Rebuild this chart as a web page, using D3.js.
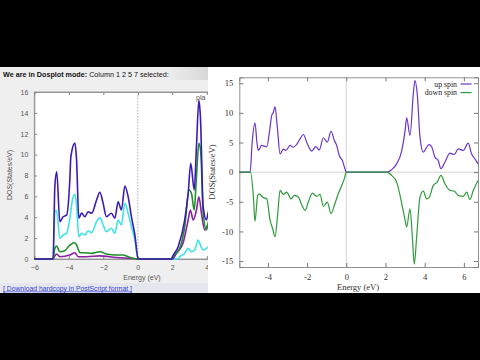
<!DOCTYPE html>
<html><head><meta charset="utf-8">
<script src="https://cdn.jsdelivr.net/npm/d3@7"></script>
<style>body{margin:0;background:#000;overflow:hidden}</style>
</head><body>
<svg id="c" width="480" height="360"></svg>
<script>
// ---------- DATA ----------
// Right chart: spin-polarised DOS (Energy eV, States/eV)
const upSpin = [[-5.46,0],[-4.91,0],[-4.8,5.2],[-4.66,8.3],[-4.56,5.0],[-4.49,3.65],[-4.32,4.5],[-4.06,4.3],[-3.89,7.6],[-3.81,9.5],[-3.72,10.1],[-3.64,11.05],[-3.52,7.6],[-3.38,3.1],[-3.21,3.9],[-3.08,3.65],[-2.87,4.5],[-2.70,4.2],[-2.53,4.7],[-2.36,5.6],[-2.19,6.35],[-2.02,5.05],[-1.77,3.55],[-1.55,4.3],[-1.38,3.75],[-1.17,5.8],[-0.97,5.05],[-0.78,6.9],[-0.61,5.35],[-0.49,4.5],[-0.36,2.8],[-0.20,1.97],[-0.07,0.57],[0,0],[2.06,0],[2.31,0.4],[2.57,1.4],[2.83,3.65],[3.0,7.0],[3.08,9.15],[3.25,6.2],[3.42,13.2],[3.5,15.45],[3.62,13.2],[3.76,5.9],[3.93,3.37],[4.1,4.2],[4.22,4.66],[4.35,4.33],[4.52,2.53],[4.69,1.97],[4.83,0.57],[5.03,1.68],[5.29,3.2],[5.51,2.98],[5.71,3.94],[5.97,3.65],[6.22,4.88],[6.39,3.1],[6.6,2.08],[6.72,1.4]];
const downSpin = [[-5.46,0],[-4.89,0],[-4.74,-4.2],[-4.66,-8.3],[-4.52,-3.9],[-4.45,-3.65],[-4.23,-4.3],[-4.06,-4.5],[-3.89,-8.1],[-3.76,-9.5],[-3.64,-10.9],[-3.5,-7.0],[-3.38,-3.08],[-3.21,-3.75],[-3.04,-3.37],[-2.82,-4.5],[-2.65,-3.92],[-2.45,-4.2],[-2.22,-5.9],[-2.1,-6.45],[-1.94,-5.05],[-1.73,-3.54],[-1.51,-4.09],[-1.34,-3.75],[-1.17,-5.78],[-0.97,-5.05],[-0.78,-7.0],[-0.58,-5.3],[-0.41,-3.65],[-0.23,-2.24],[-0.1,-1.1],[0,0],[2.06,0],[2.31,-0.55],[2.57,-1.68],[2.83,-5.3],[3.0,-8.1],[3.08,-9.25],[3.25,-6.17],[3.37,-10.9],[3.47,-15.5],[3.59,-10.9],[3.76,-4.2],[3.93,-3.2],[4.1,-4.5],[4.22,-4.3],[4.44,-2.24],[4.64,-1.68],[4.83,-0.55],[5.03,-1.96],[5.29,-3.08],[5.51,-3.2],[5.71,-3.92],[5.97,-4.09],[6.14,-3.37],[6.31,-4.65],[6.48,-3.08],[6.72,-1.4]];
const rightXTicks = [-4,-2,0,2,4,6];
const rightYTicks = [-15,-10,-5,0,5,10,15];
const legendLabels = ["up spin","down spin"];

// Left chart (Dosplot screenshot): columns 2, 5, 7 and another
const leftTotal = [[-6,0],[-4.91,0],[-4.81,6.9],[-4.70,8.36],[-4.52,3.57],[-4.33,4.05],[-4.13,4.2],[-3.94,7.6],[-3.88,9.8],[-3.65,11.1],[-3.55,9.5],[-3.42,3.9],[-3.26,4.4],[-3.07,4.05],[-2.88,4.53],[-2.68,4.38],[-2.39,5.65],[-2.2,6.39],[-2.01,5.33],[-1.82,4.05],[-1.53,4.38],[-1.33,3.9],[-1.14,5.49],[-0.95,4.69],[-0.75,6.99],[-0.56,5.97],[-0.37,4.05],[-0.17,2.3],[0.02,0],[1.95,0],[2.01,0.22],[2.34,1.18],[2.72,3.74],[2.92,6.29],[3.07,9.17],[3.27,6.61],[3.4,10.76],[3.54,15.2],[3.63,13.6],[3.79,5.0],[3.98,3.74],[4.13,4.69],[4.35,4.3],[4.6,2.2]];
const leftCyan = [[-6,0],[-4.91,0],[-4.81,4.53],[-4.71,4.63],[-4.52,1.98],[-4.33,2.3],[-4.13,2.46],[-3.94,3.9],[-3.79,5.65],[-3.65,6.2],[-3.55,5.17],[-3.42,2.14],[-3.26,2.46],[-3.07,2.3],[-2.88,2.71],[-2.68,2.52],[-2.39,3.57],[-2.2,3.96],[-2.01,3.26],[-1.82,2.62],[-1.53,2.94],[-1.33,2.46],[-1.14,3.74],[-0.95,3.26],[-0.75,5.33],[-0.56,4.38],[-0.37,3.1],[-0.17,1.82],[0.02,0],[2.3,0],[2.43,0.22],[2.72,0.54],[2.92,1.02],[3.11,0.7],[3.3,0.86],[3.5,1.82],[3.59,1.5],[3.79,0.86],[3.98,1.02],[4.13,1.2],[4.5,1.0]];
const leftGreen = [[-6,0],[-4.91,0],[-4.81,1.02],[-4.71,1.24],[-4.52,0.7],[-4.23,0.8],[-3.94,1.34],[-3.65,1.56],[-3.52,1.24],[-3.36,0.6],[-3.07,0.6],[-2.68,0.54],[-2.2,0.7],[-1.82,0.48],[-1.24,0.38],[-0.85,0.38],[-0.56,0.22],[-0.27,0.07],[0,0],[1.95,0],[2.05,0.22],[2.43,1.02],[2.72,3.1],[2.97,6.61],[3.11,6.29],[3.27,4.69],[3.4,7.88],[3.54,11.08],[3.65,10.28],[3.79,4.38],[3.98,2.78],[4.13,3.74],[4.5,2.5]];
const leftPurple = [[-6,0],[-4.91,0],[-4.81,0.3],[-4.71,0.48],[-4.52,0.22],[-3.94,0.38],[-3.65,0.6],[-3.46,0.22],[-2.97,0.22],[-2.2,0.3],[-1.24,0.14],[-0.27,0.05],[0,0],[2.0,0],[2.24,0.54],[2.62,1.5],[2.92,3.74],[3.05,4.69],[3.21,3.74],[3.4,4.69],[3.54,5.97],[3.69,4.38],[3.88,2.78],[4.13,3.42],[4.5,2.2]];
const leftXTicks = [-6,-4,-2,0,2,4,6,8];
const leftYTicks = [0,2,4,6,8,10,12,14,16];

// ---------- DRAW ----------
const svg = d3.select("#c");
svg.append("rect").attr("width",480).attr("height",360).attr("fill","#000");

// ---- Left panel ----
const defs = svg.append("defs");
defs.append("clipPath").attr("id","lclip").append("rect")
  .attr("x",0).attr("y",67).attr("width",208).attr("height",226);
const grad = defs.append("linearGradient").attr("id","lg").attr("x1","0").attr("x2","1");
grad.append("stop").attr("offset","0.8").attr("stop-color","#eeeeee");
grad.append("stop").attr("offset","1").attr("stop-color","#d8d8d8");

const L = svg.append("g").attr("clip-path","url(#lclip)");
L.append("rect").attr("x",0).attr("y",67).attr("width",208).attr("height",226).attr("fill","#efefef");
L.append("rect").attr("x",0).attr("y",67).attr("width",208).attr("height",13).attr("fill","url(#lg)");
L.append("rect").attr("x",0).attr("y",283).attr("width",208).attr("height",10).attr("fill","#e6e6ee");

const hdr = L.append("text").attr("x",3).attr("y",76.5)
  .attr("font-family","Liberation Sans, Arial, sans-serif").attr("font-size",7.2).attr("fill","#111");
hdr.append("tspan").attr("font-weight","bold").text("We are in Dosplot mode:");
hdr.append("tspan").text(" Column 1 2 5 7 selected:");

L.append("text").attr("x",3).attr("y",290.5)
  .attr("font-family","Liberation Sans, Arial, sans-serif").attr("font-size",6.8)
  .attr("fill","#3344cc").attr("text-decoration","underline")
  .text("[ Download hardcopy in PostScript format ]");

const lx = d3.scaleLinear().domain([-6,8]).range([34.3,275.8]);
const ly = d3.scaleLinear().domain([0,16]).range([259,92]);

L.append("rect").attr("x",lx(-6)).attr("y",ly(16)).attr("width",lx(8)-lx(-6)).attr("height",ly(0)-ly(16))
  .attr("fill","#ffffff").attr("stroke","#888").attr("stroke-width",0.8);

const laxB = L.append("g").attr("transform",`translate(0,${ly(0)})`)
  .call(d3.axisBottom(lx).tickValues(leftXTicks).tickSize(-3).tickPadding(6).tickFormat(d3.format("d")));
const laxT = L.append("g").attr("transform",`translate(0,${ly(16)})`)
  .call(d3.axisTop(lx).tickValues(leftXTicks).tickSize(-3).tickFormat(""));
const laxL = L.append("g").attr("transform",`translate(${lx(-6)},0)`)
  .call(d3.axisLeft(ly).tickValues(leftYTicks).tickSize(-3).tickPadding(6));
[laxB,laxT,laxL].forEach(a=>{
  a.select(".domain").attr("stroke","#888").attr("stroke-width",0.8);
  a.selectAll(".tick line").attr("stroke","#888");
  a.selectAll("text").attr("font-family","Liberation Sans, Arial, sans-serif").attr("font-size",7).attr("fill","#555");
});
L.append("line").attr("x1",lx(0)).attr("x2",lx(0)).attr("y1",ly(16)).attr("y2",ly(0))
  .attr("stroke","#999").attr("stroke-width",0.8).attr("stroke-dasharray","1.5,1.5");

L.append("text").attr("x",142).attr("y",280).attr("text-anchor","middle")
  .attr("font-family","Liberation Sans, Arial, sans-serif").attr("font-size",7).attr("fill","#555").text("Energy (eV)");
L.append("text").attr("transform","translate(12,175) rotate(-90)").attr("text-anchor","middle")
  .attr("font-family","Liberation Sans, Arial, sans-serif").attr("font-size",7).attr("fill","#555").text("DOS(States/eV)");
L.append("text").attr("x",196).attr("y",100)
  .attr("font-family","Liberation Sans, Arial, sans-serif").attr("font-size",7).attr("fill","#555").text("pla");

const lline = d3.line().x(d=>lx(d[0])).y(d=>ly(d[1])).curve(d3.curveMonotoneX);
[[leftCyan,"#3fe3e8"],[leftPurple,"#8d1fa3"],[leftGreen,"#1f8f2a"],[leftTotal,"#3b1bb5"]].forEach(([s,c])=>{
  L.append("path").datum(s).attr("d",lline).attr("fill","none").attr("stroke",c).attr("stroke-width",1.6);
});

// ---- Right panel ----
svg.append("rect").attr("x",208).attr("y",67).attr("width",272).attr("height",226).attr("fill","#ffffff");

const rx = d3.scaleLinear().domain([-5.46,6.72]).range([239.3,478]);
const ry = d3.scaleLinear().domain([-16,16]).range([267,77.3]);
const R = svg.append("g");
const serif = "Liberation Serif, Times New Roman, serif";

// zero lines
R.append("line").attr("x1",rx(0)).attr("x2",rx(0)).attr("y1",ry(16)).attr("y2",ry(-16)).attr("stroke","#c8c8c8").attr("stroke-width",0.8);
R.append("line").attr("x1",rx(-5.46)).attr("x2",rx(6.72)).attr("y1",ry(0)).attr("y2",ry(0)).attr("stroke","#c8c8c8").attr("stroke-width",0.8);

const rB = R.append("g").attr("transform",`translate(0,${ry(-16)})`)
  .call(d3.axisBottom(rx).tickValues(rightXTicks).tickSize(-4).tickPadding(7).tickFormat(d3.format("d")));
const rT = R.append("g").attr("transform",`translate(0,${ry(16)})`)
  .call(d3.axisTop(rx).tickValues(rightXTicks).tickSize(-4).tickFormat(""));
const rL = R.append("g").attr("transform",`translate(${rx(-5.46)},0)`)
  .call(d3.axisLeft(ry).tickValues(rightYTicks).tickSize(-4).tickPadding(6).tickFormat(d3.format("d")));
const rR = R.append("g").attr("transform",`translate(${rx(6.72)},0)`)
  .call(d3.axisRight(ry).tickValues(rightYTicks).tickSize(-4).tickFormat(""));
[rB,rT,rL,rR].forEach(a=>{
  a.select(".domain").attr("stroke","#777").attr("stroke-width",0.8);
  a.selectAll(".tick line").attr("stroke","#777");
  a.selectAll("text").attr("font-family",serif).attr("font-size",8.5).attr("fill","#333");
});
rL.selectAll("text").text(d=> d<0 ? "-"+Math.abs(d) : d);
rB.selectAll("text").text(d=> d<0 ? "-"+Math.abs(d) : d);

R.append("text").attr("x",358).attr("y",290).attr("text-anchor","middle")
  .attr("font-family",serif).attr("font-size",8.5).attr("fill","#333").text("Energy (eV)");
R.append("text").attr("transform","translate(215,172) rotate(-90)").attr("text-anchor","middle")
  .attr("font-family",serif).attr("font-size",8.5).attr("fill","#333").text("DOS(States/eV)");

const rline = d3.line().x(d=>rx(d[0])).y(d=>ry(d[1])).curve(d3.curveMonotoneX);
const colors = ["#6a35c9","#2f9a3c"];
[upSpin,downSpin].forEach((s,i)=>{
  R.append("path").datum(s).attr("d",rline).attr("fill","none").attr("stroke",colors[i]).attr("stroke-width",1.2);
});

// legend
legendLabels.forEach((t,i)=>{
  const y = 84 + i*8.6;
  R.append("text").attr("x",457).attr("y",y+2.7).attr("text-anchor","end")
    .attr("font-family",serif).attr("font-size",7.8).attr("fill","#222").text(t);
  R.append("line").attr("x1",460.5).attr("x2",471.5).attr("y1",y).attr("y2",y)
    .attr("stroke",colors[i]).attr("stroke-width",1.2);
});
</script>
</body></html>
